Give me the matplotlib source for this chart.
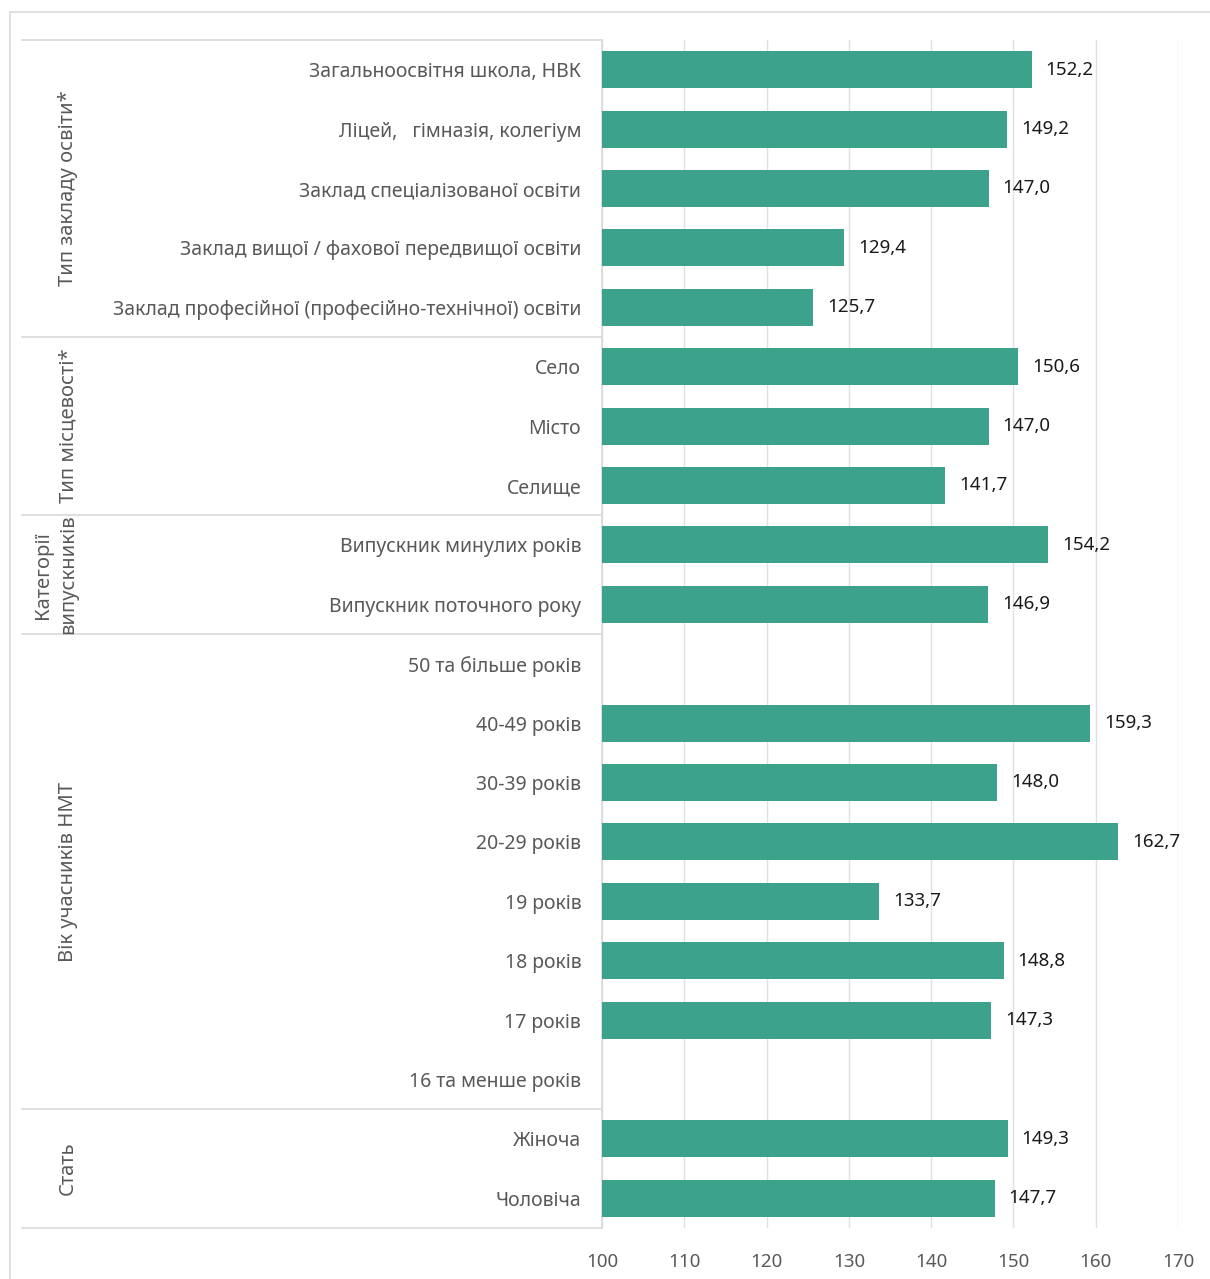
# -*- coding: utf-8 -*-
# Середній бал НМТ за категоріями учасників (горизонтальні стовпці)

import matplotlib
matplotlib.use('Agg')
import matplotlib.pyplot as plt
import matplotlib.transforms as mtransforms
from matplotlib.lines import Line2D

plt.rcParams['font.family'] = ['Noto Sans', 'DejaVu Sans']

# %% дані

kategorii = [
    'Загальноосвітня школа, НВК',
    'Ліцей,   гімназія, колегіум',
    'Заклад спеціалізованої освіти',
    'Заклад вищої / фахової передвищої освіти',
    'Заклад професійної (професійно-технічної) освіти',
    'Село',
    'Місто',
    'Селище',
    'Випускник минулих років',
    'Випускник поточного року',
    '50 та більше років',
    '40-49 років',
    '30-39 років',
    '20-29 років',
    '19 років',
    '18 років',
    '17 років',
    '16 та менше років',
    'Жіноча',
    'Чоловіча',
]

vrednosti = [152.2, 149.2, 147.0, 129.4, 125.7,
             150.6, 147.0, 141.7,
             154.2, 146.9,
             None, 159.3, 148.0, 162.7, 133.7, 148.8, 147.3, None,
             149.3, 147.7]

grupe = ['Тип закладу освіти*', 'Тип місцевості*', 'Категорії\nвипускників',
         'Вік учасників НМТ', 'Стать']
velicine_grupa = [5, 3, 2, 8, 2]

x_ticks = [100, 110, 120, 130, 140, 150, 160, 170]

# %% stil

BOJA_BAR = '#3ca28c'
BOJA_TEKST = '#595959'
BOJA_LINIJA = '#d9d9d9'

fig = plt.figure(figsize=(12.10, 12.79), dpi=100)
ax = fig.add_axes([602 / 1210, 1 - 1228 / 1279, 576 / 1210, 1188 / 1279])

# %% stubici

y_pos = list(range(len(kategorii)))
for y, v in zip(y_pos, vrednosti):
    if v is None:
        continue
    ax.barh(y, v, height=0.62, color=BOJA_BAR, zorder=3)
    ax.annotate(f'{v:.1f}'.replace('.', ','), xy=(v, y), xytext=(14, 0),
                textcoords='offset pixels', va='center', ha='left',
                fontsize=13.5, color='#1a1a1a')

ax.set_xlim(100, 170)
ax.set_ylim(len(kategorii) - 0.5, -0.5)
ax.set_xticks(x_ticks)
ax.set_xticklabels([str(t) for t in x_ticks], fontsize=13.5, color=BOJA_TEKST)
ax.tick_params(axis='x', length=0, pad=18)
ax.set_yticks(y_pos)
ax.set_yticklabels(kategorii, fontsize=14, color=BOJA_TEKST)
ax.tick_params(axis='y', length=0, pad=15)

ax.grid(axis='x', color='#e0e0e0', linewidth=1, zorder=0)
for s in ['top', 'right', 'bottom']:
    ax.spines[s].set_visible(False)
ax.spines['left'].set_color(BOJA_LINIJA)
ax.spines['left'].set_linewidth(1.2)

# %% grupe kategorija

trans = mtransforms.blended_transform_factory(fig.transFigure, ax.transData)
x_lin0 = 22 / 1210
x_lin1 = 602 / 1210

granica = -0.5
fig.add_artist(Line2D([x_lin0, x_lin1], [granica, granica], transform=trans,
                      color=BOJA_LINIJA, linewidth=1.2))
for naziv, n in zip(grupe, velicine_grupa):
    centar = granica + n / 2
    granica = granica + n
    fig.add_artist(Line2D([x_lin0, x_lin1], [granica, granica], transform=trans,
                          color=BOJA_LINIJA, linewidth=1.2))
    x_txt = 68 / 1210 if '\n' not in naziv else 56 / 1210
    fig.text(x_txt, centar, naziv, transform=trans, rotation=90,
             ha='center', va='center', fontsize=14.5, color=BOJA_TEKST,
             linespacing=1.35)

# okvir grafikona
fig.add_artist(Line2D([10 / 1210, 1], [1 - 12 / 1279, 1 - 12 / 1279],
                      transform=fig.transFigure, color=BOJA_LINIJA, linewidth=1.2))
fig.add_artist(Line2D([10 / 1210, 10 / 1210], [0, 1 - 12 / 1279],
                      transform=fig.transFigure, color=BOJA_LINIJA, linewidth=1.2))

plt.savefig('out.png', dpi=100)
